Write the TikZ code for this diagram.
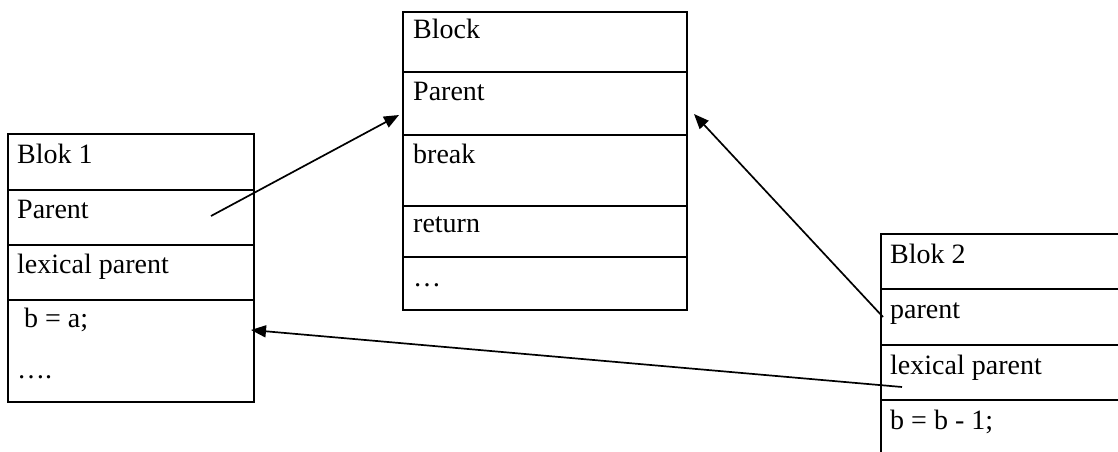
\documentclass[tikz,border=0pt]{standalone}
\usepackage{fontspec}
\setmainfont{Liberation Serif}
\usetikzlibrary{arrows.meta}
\begin{document}
\begin{tikzpicture}[x=1pt,y=-1pt,
  frame/.style={line width=1.9pt},
  cell/.style={anchor=base west,inner sep=0pt,font=\fontsize{28}{32}\selectfont},
  link/.style={line width=1.7pt,-{Triangle[length=15pt,width=12pt]}}]
\useasboundingbox (0,0) rectangle (1118,452);
\clip (0,0) rectangle (1118,452);
\fill[white] (0,0) rectangle (1118,452);

% Blok 1
\draw[frame] (8,134) rectangle (254,402);
\draw[frame] (8,190) -- (254,190) (8,245) -- (254,245) (8,300) -- (254,300);
\node[cell] (b1title) at (17,163) {Blok 1};
\node[cell] (b1parent) at (17,218) {Parent};
\node[cell] (b1lex) at (17,273) {lexical parent};
\node[cell] (b1code) at (17,327) {\ b = a;};
\node[cell] (b1dots) at (17,378) {….};

% Block
\draw[frame] (403,12) rectangle (687,310);
\draw[frame] (403,72) -- (687,72) (403,135) -- (687,135) (403,206) -- (687,206) (403,257) -- (687,257);
\node[cell] (blktitle) at (413,38) {Block};
\node[cell] (blkparent) at (413,100) {Parent};
\node[cell] (blkbreak) at (413,163) {break};
\node[cell] (blkreturn) at (413,232) {return};
\node[cell] (blkdots) at (413,286) {…};

% Blok 2 (runs past the right and bottom edges)
\draw[frame] (881,470) -- (881,234) -- (1130,234);
\draw[frame] (881,289) -- (1130,289) (881,345) -- (1130,345) (881,400) -- (1130,400);
\node[cell] (b2title) at (890,263) {Blok 2};
\node[cell] (b2parent) at (890,318) {parent};
\node[cell] (b2lex) at (890,374) {lexical parent};
\node[cell] (b2code) at (890,429) {b = b - 1;};

% pointer ends
\coordinate (p1from) at (211,216);
\coordinate (p1to) at (399,115);
\coordinate (p2from) at (883,317);
\coordinate (p2to) at (694,114);
\coordinate (p3from) at (902,387);
\coordinate (p3to) at (251,330);

\draw[link] (p1from) -- (p1to);
\draw[link] (p2from) -- (p2to);
\draw[link] (p3from) -- (p3to);
\end{tikzpicture}
\end{document}
